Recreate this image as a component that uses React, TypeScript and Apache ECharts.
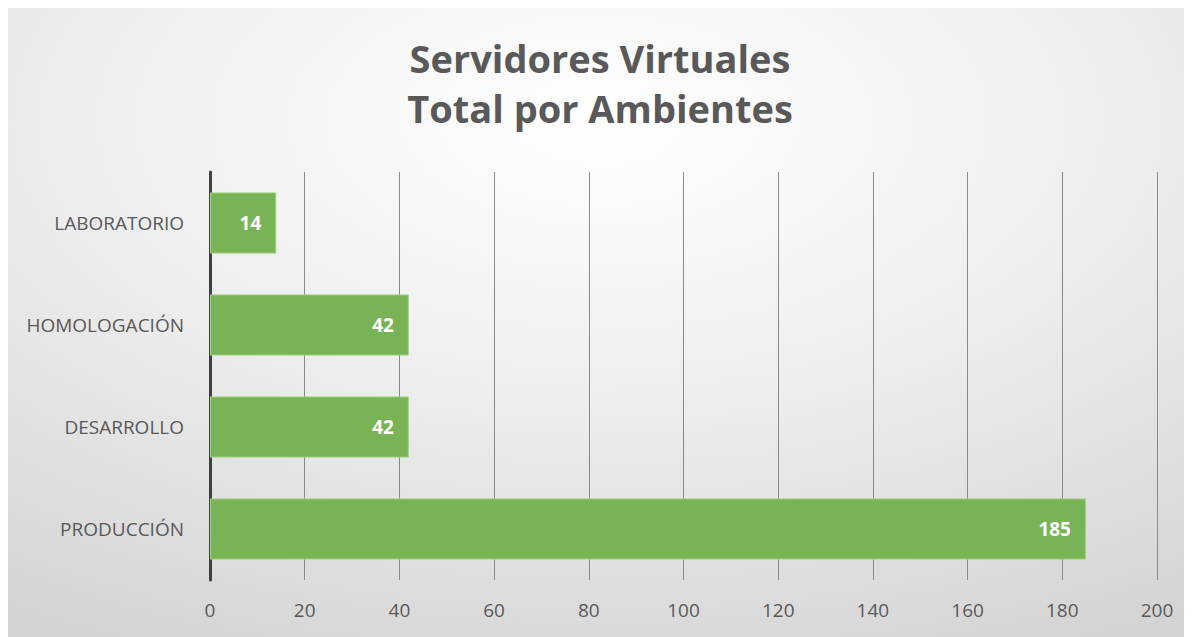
import React, { useEffect, useRef } from "react";
import * as echarts from "echarts";

const categories = ["PRODUCCIÓN", "DESARROLLO", "HOMOLOGACIÓN", "LABORATORIO"];
const values = [185, 42, 42, 14];
const titleLines = ["Servidores Virtuales", "Total por Ambientes"];
const xMin = 0;
const xMax = 200;
const xInterval = 20;

export default function App() {
  const ref = useRef<HTMLDivElement>(null);
  useEffect(() => {
    if (!ref.current) return;
    const chart = echarts.init(ref.current, null, { renderer: "svg" });
    chart.setOption({
      animation: false,
      backgroundColor: {
        type: "radial",
        x: 0.5,
        y: 0.18,
        r: 1.25,
        colorStops: [
          { offset: 0, color: "#ffffff" },
          { offset: 0.35, color: "#eeeeee" },
          { offset: 1, color: "#c2c2c2" },
        ],
      },
      title: {
        text: titleLines.join("\n"),
        left: "center",
        top: 20,
        textStyle: {
          fontFamily: "Open Sans",
          fontWeight: "bold",
          fontSize: 38,
          lineHeight: 50,
          color: "#595959",
        },
      },
      grid: { left: 202, right: 35, top: 164, bottom: 57, containLabel: false },
      xAxis: {
        type: "value",
        min: xMin,
        max: xMax,
        interval: xInterval,
        axisLine: { show: false },
        axisTick: { show: false },
        splitLine: { show: true, lineStyle: { color: "#8a8a8a", width: 1 } },
        axisLabel: {
          color: "#595959",
          fontFamily: "Open Sans",
          fontSize: 19,
          margin: 20,
        },
      },
      yAxis: {
        type: "category",
        data: categories,
        axisLine: { show: true, lineStyle: { color: "#404040", width: 3 } },
        axisTick: { show: false },
        axisLabel: {
          color: "#595959",
          fontFamily: "Open Sans",
          fontSize: 19,
          margin: 26,
        },
      },
      series: [
        {
          type: "bar",
          data: values,
          barCategoryGap: "40%",
          itemStyle: { color: "#78b455", borderColor: "#a3d386", borderWidth: 1 },
          label: {
            show: true,
            position: "insideRight",
            distance: 15,
            color: "#ffffff",
            fontFamily: "Open Sans",
            fontWeight: "bold",
            fontSize: 19,
          },
        },
      ],
    });
    return () => chart.dispose();
  }, []);
  return <div ref={ref} style={{ width: 1184, height: 629 }} />;
}
